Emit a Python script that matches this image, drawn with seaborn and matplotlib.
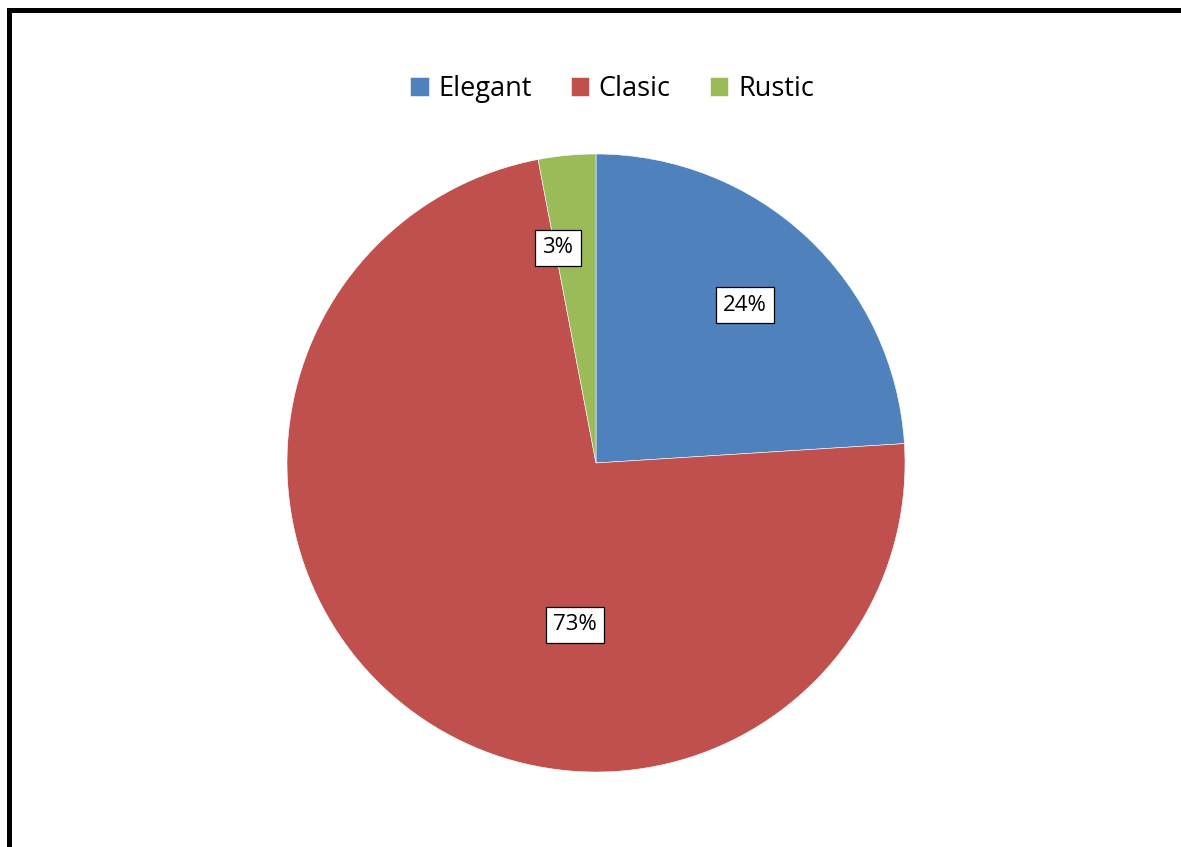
import matplotlib
matplotlib.use("Agg")
import matplotlib.pyplot as plt
import seaborn as sns
from matplotlib.patches import Rectangle

categories = ["Elegant", "Clasic", "Rustic"]
values = [24, 73, 3]
colors = ["#4F81BD", "#C0504D", "#9BBB59"]

# label positions (axes data units, pie radius = 1)
label_pos = [(0.482, 0.511), (-0.068, -0.524), (-0.123, 0.696)]

sns.set_style("white")
plt.rcParams['font.family'] = ['Open Sans', 'DejaVu Sans']
plt.rcParams['text.color'] = 'black'

W, H = 1181, 847
fig = plt.figure(figsize=(W / 100, H / 100), dpi=100)
ax = fig.add_axes([0, 0, 1, 1])

cx, cy, r = 596, 847 - 463, 309
wedges, texts, autotexts = ax.pie(
    values, colors=colors, startangle=90, counterclock=False,
    autopct=lambda p: f"{p:.0f}%", pctdistance=0.7,
    wedgeprops=dict(edgecolor="white", linewidth=0.4),
    textprops=dict(fontsize=16, color="black"))
for t, pos in zip(autotexts, label_pos):
    t.set_position(pos)
    t.set_bbox(dict(boxstyle="square,pad=0.32", facecolor="white",
                    edgecolor="black", linewidth=0.9))

ax.set_xlim(-cx / r, (W - cx) / r)
ax.set_ylim(-cy / r, (H - cy) / r)
ax.set_aspect("equal")
ax.axis("off")

leg = fig.legend(wedges, categories, loc="center", ncol=3, frameon=False,
                 bbox_to_anchor=(612 / W, 1 - 89 / H), fontsize=19.5,
                 handlelength=0.68, handleheight=0.68, handletextpad=0.35,
                 columnspacing=1.45, labelcolor="black")

fig.patches.append(Rectangle((9.5 / W, -0.2), 2, 1.2 - 9.5 / H, fill=False,
                             edgecolor="black", linewidth=3.6,
                             transform=fig.transFigure, figure=fig))

fig.savefig("out.png", dpi=100)
